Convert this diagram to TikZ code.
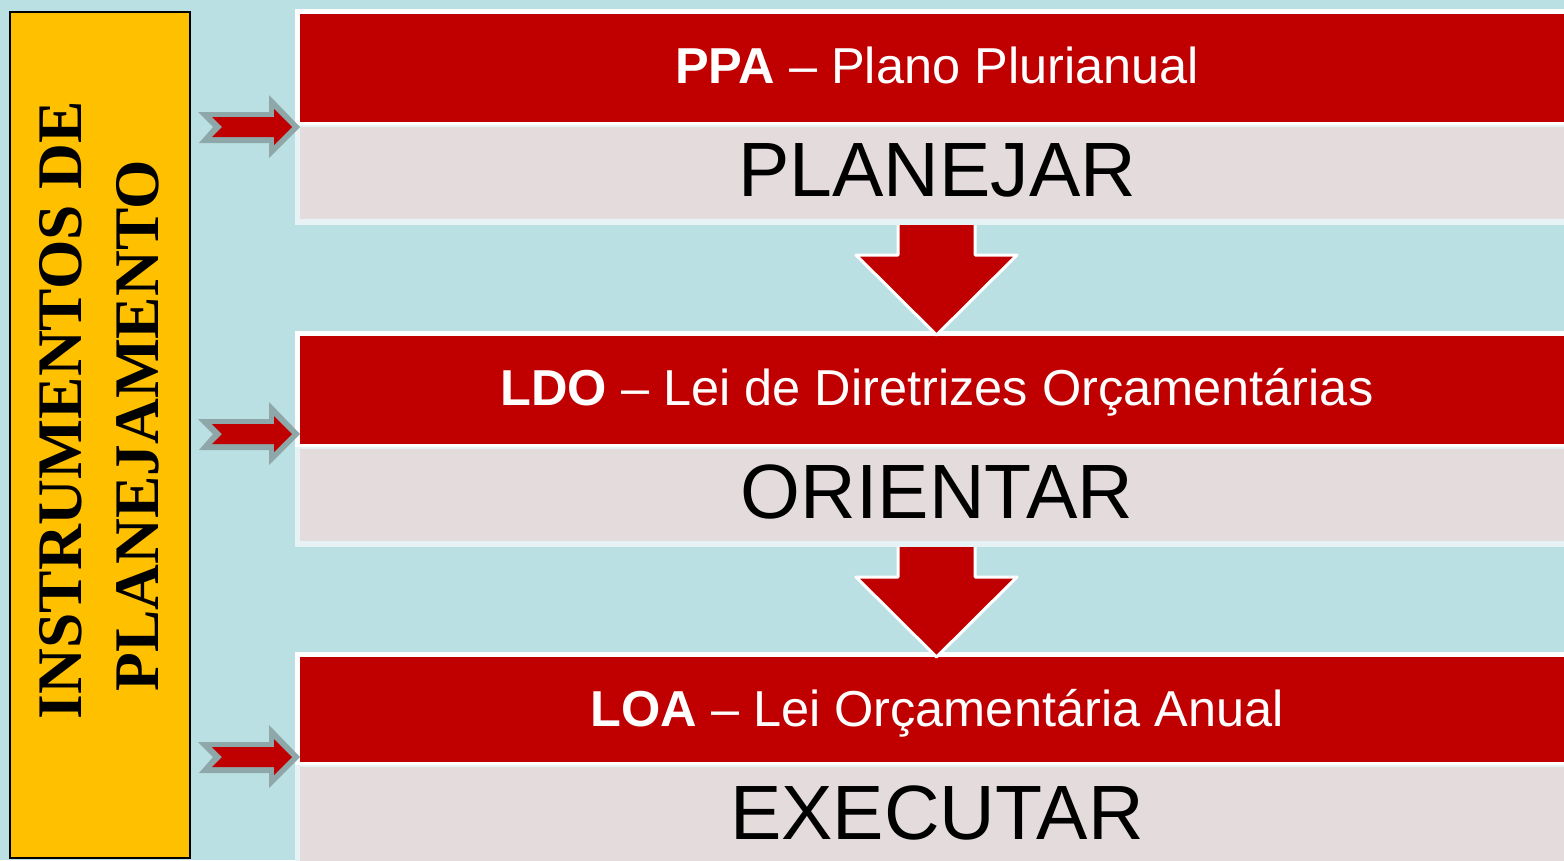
\documentclass[tikz,border=0pt]{standalone}
\usepackage{fontspec}
\setmainfont{Liberation Sans}
\newfontfamily\titleserif{Liberation Serif}
\usetikzlibrary{calc}
\definecolor{bgblue}{HTML}{BBE0E3}
\definecolor{boxyellow}{HTML}{FFC000}
\definecolor{hdrred}{HTML}{C00000}
\definecolor{bodygray}{HTML}{E3DBDC}
\definecolor{framelow}{HTML}{E6F2F3}
\definecolor{arrowgray}{HTML}{8EA7A9}
\tikzset{
  headtxt/.style={text=white, font=\fontsize{50.5bp}{60bp}\selectfont, inner sep=0pt},
  bodytxt/.style={text=black, font=\fontsize{77bp}{90bp}\selectfont, inner sep=0pt},
  sidetxt/.style={text=black, font=\titleserif\bfseries\fontsize{63.5bp}{70bp}\selectfont, inner sep=0pt, rotate=90},
  downarrow/.style={fill=hdrred, draw=white, line width=3bp, line join=round},
  sideouter/.style={fill=arrowgray},
  sideinner/.style={fill=hdrred},
}
\newcommand\planblock[5]{%
  \fill[framelow] (295,#1) rectangle (1600,{#1+216});
  \fill[white] (295,#1) rectangle (1600,{#1+#5+3});
  \fill[hdrred] (300,{#1+5}) rectangle (1600,{#1+#5});
  \fill[bodygray] (300,{#1+#5+5}) rectangle (1600,{#1+210});
  \node[headtxt, anchor=base] (h#4) at (937,{#1+74}) {#2};
  \node[bodytxt, anchor=base] (t#4) at (937,{#1+187.5}) {#3};
}
\newcommand\downblockarrow[1]{%
  \draw[downarrow] (898,{#1+210}) -- (975,{#1+210}) -- (975,{#1+246}) -- (1017,{#1+246})
     -- (936.5,{#1+326}) -- (856,{#1+246}) -- (898,{#1+246}) -- cycle;
}
\begin{document}
\begin{tikzpicture}[x=1bp,y=-1bp]
\path[use as bounding box, fill=bgblue] (0,0) rectangle (1564,860);
\clip (0,0) rectangle (1564,860);

% left title box
\node[draw=black, line width=1.5bp, fill=boxyellow, minimum width=180bp, minimum height=846bp,
      inner sep=0pt, anchor=north west] (title) at (9,11) {};
\node[sidetxt, anchor=base] (line1) at (81,410) {INSTRUMENTOS DE};
\node[sidetxt, anchor=base] (line2) at (158,426) {PLANEJAMENTO};

% blocks (drawn bottom to top so each arrow sits between them)
\planblock{652}{\textbf{LOA} – Lei Orçamentária Anual}{EXECUTAR}{3}{110}
\downblockarrow{331}
\planblock{331}{\textbf{LDO} – Lei de Diretrizes Orçamentárias}{ORIENTAR}{2}{113}
\downblockarrow{9}
\planblock{9}{\textbf{PPA} – Plano Plurianual}{PLANEJAR}{1}{113}

% small side arrows
\foreach \c in {127,434,757}{
  \fill[sideouter] (198,\c-15) -- (269,\c-15) -- (269,\c-32) -- (300,\c) -- (269,\c+31)
     -- (269,\c+16) -- (199,\c+16) -- (213,\c) -- cycle;
  \fill[sideinner] (212,\c-10) -- (274,\c-10) -- (274,\c-18) -- (292,\c) -- (274,\c+18)
     -- (274,\c+10) -- (212,\c+10) -- (222,\c) -- cycle;
}
\end{tikzpicture}
\end{document}
